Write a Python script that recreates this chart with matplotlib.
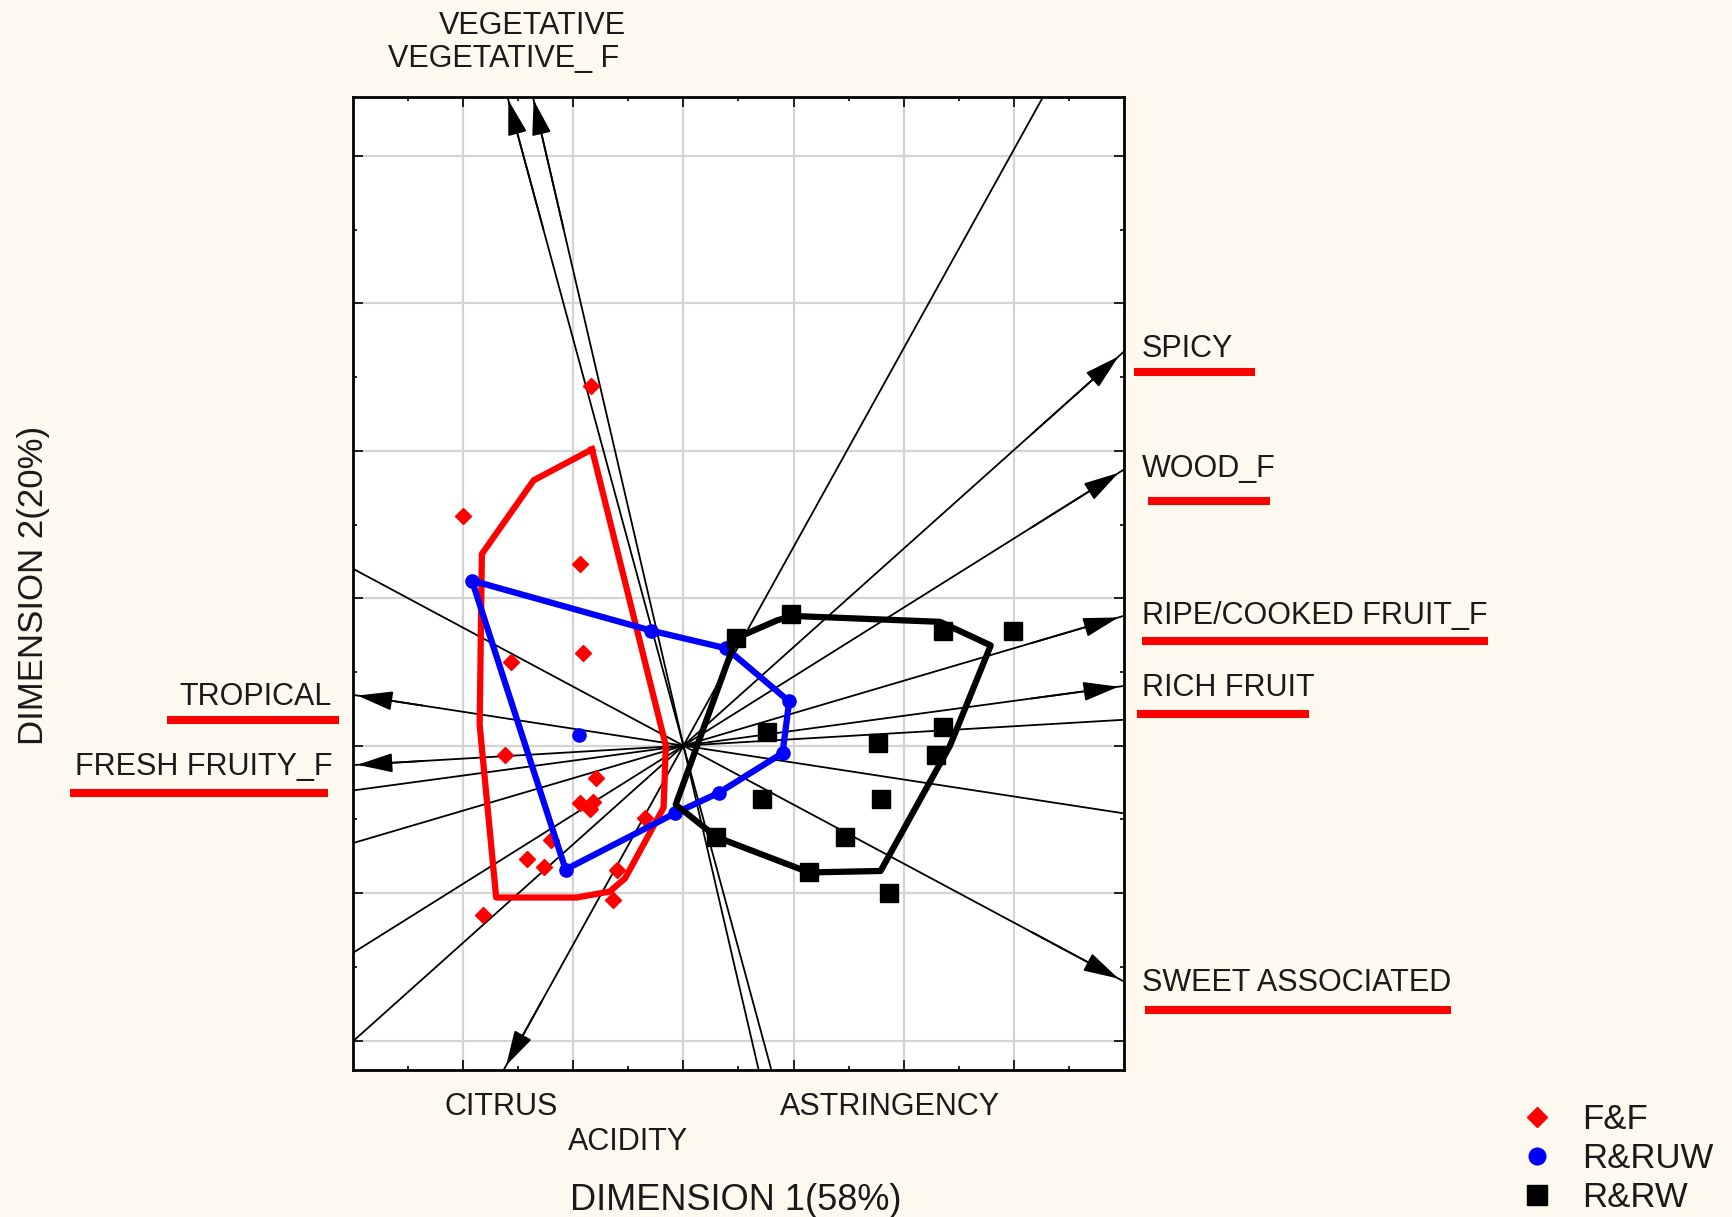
import numpy as np
import matplotlib.pyplot as plt
from matplotlib.lines import Line2D

plt.rcParams['font.family'] = ['Liberation Sans', 'DejaVu Sans']

W, H = 1733, 1217

############
# sample scores
############
# F&F (red diamonds)
ff_x = [-0.84, -2.00, -0.94, -0.91, -1.57, -1.62, -0.79, -0.94, -0.82,
        -0.85, -0.35, -1.20, -1.42, -1.27, -0.60, -0.64, -1.82]
ff_y = [2.44, 1.56, 1.23, 0.63, 0.57, -0.06, -0.22, -0.39, -0.38,
        -0.43, -0.49, -0.64, -0.77, -0.82, -0.84, -1.05, -1.15]

# R&RUW (blue circles)
ruw_x = [-1.92, -0.29, 0.39, 0.96, -0.95, 0.90, 0.32, -0.08, -1.07]
ruw_y = [1.12, 0.78, 0.66, 0.30, 0.07, -0.05, -0.32, -0.46, -0.84]

# R&RW (black squares)
rw_x = [0.48, 0.98, 2.36, 2.99, 0.76, 2.36, 1.77, 2.29, 0.71,
        1.79, 0.30, 1.47, 1.14, 1.87]
rw_y = [0.73, 0.89, 0.78, 0.78, 0.09, 0.13, 0.02, -0.06, -0.36,
        -0.36, -0.62, -0.62, -0.86, -1.00]

# group outlines
ff_hull_x = [-0.83, -1.36, -1.83, -1.85, -1.70, -0.97, -0.67, -0.53, -0.18, -0.16, -0.83]
ff_hull_y = [2.01, 1.80, 1.30, 0.14, -1.03, -1.03, -0.99, -0.90, -0.42, 0.00, 2.01]
ruw_hull = [0, 1, 2, 3, 5, 6, 7, 8, 0]
rw_hull_x = [0.48, 0.85, 0.99, 2.33, 2.79, 2.42, 1.79, 1.14, 0.30, -0.07, 0.48]
rw_hull_y = [0.73, 0.85, 0.88, 0.84, 0.68, 0.00, -0.85, -0.86, -0.62, -0.40, 0.73]

############
# attribute vectors (arrow tips)
############
var_names = ['VEGETATIVE', 'VEGETATIVE_ F', 'SPICY', 'WOOD_F',
             'RIPE/COOKED FRUIT_F', 'RICH FRUIT', 'SWEET ASSOCIATED',
             'TROPICAL', 'FRESH FRUITY_F', 'CITRUS']
var_x = [-1.59, -1.36, 3.95, 3.95, 3.95, 3.95, 3.95, -2.96, -2.96, -1.61]
var_y = [4.38, 4.38, 2.64, 1.85, 0.87, 0.40, -1.58, 0.34, -0.13, -2.17]

# label layout in figure pixels: x, baseline, alignment
label_pos = {
    'VEGETATIVE': (532, 34, 'center'),
    'VEGETATIVE_ F': (504, 67, 'center'),
    'SPICY': (1142, 357, 'left'),
    'WOOD_F': (1142, 477, 'left'),
    'RIPE/COOKED FRUIT_F': (1142, 624, 'left'),
    'RICH FRUIT': (1142, 696, 'left'),
    'SWEET ASSOCIATED': (1142, 991, 'left'),
    'TROPICAL': (332, 705, 'right'),
    'FRESH FRUITY_F': (333, 775, 'right'),
    'CITRUS': (501, 1115, 'center'),
    'ACIDITY': (628, 1150, 'center'),
    'ASTRINGENCY': (890, 1115, 'center'),
}

# red highlight bars (figure pixels): x0, x1, y
underlines = [(1134, 1255, 372), (1148, 1270, 501), (1142, 1488, 641),
              (1137, 1309, 714), (1145, 1451, 1010), (167, 339, 720),
              (70, 328, 793)]


def fx(px):
    return px / W


def fy(py):
    return 1 - py / H


txt_col = '#1a1a1a'

fig = plt.figure(figsize=(W / 100, H / 100), dpi=100)
fig.patch.set_facecolor('#fdf9ef')

ax = fig.add_axes([fx(353), fy(1070), fx(1124) - fx(353), fy(97) - fy(1070)])
ax.set_facecolor('white')
ax.set_xlim(-3, 4)
ax.set_ylim(-2.2, 4.4)
ax.set_xticks(np.arange(-2, 4))
ax.set_yticks(np.arange(-2, 5))
ax.set_xticks(np.arange(-2.5, 4, 1.0), minor=True)
ax.set_yticks(np.arange(-1.5, 4.4, 1.0), minor=True)
ax.tick_params(which='both', direction='in', top=True, right=True,
               labelbottom=False, labelleft=False, width=1.2)
ax.tick_params(which='major', length=7)
ax.tick_params(which='minor', length=3)
ax.grid(True, which='major', color='#d4d4d4', lw=1.6)
ax.set_axisbelow(True)
for s in ax.spines.values():
    s.set_linewidth(2)

# biplot vectors
for vx, vy in zip(var_x, var_y):
    ax.axline((0, 0), (vx, vy), color='black', lw=1.3, zorder=2)
    ax.annotate('', xy=(vx, vy), xytext=(0.8 * vx, 0.8 * vy),
                arrowprops=dict(arrowstyle='-|>,head_length=1.1,head_width=0.3',
                                mutation_scale=20, color='black', lw=1.3,
                                shrinkA=0, shrinkB=0), zorder=2)

# groups
ax.plot(ff_hull_x, ff_hull_y, color='#ff0000', lw=4.5, zorder=3)
ax.plot(ff_x, ff_y, 'D', color='#ff0000', ms=8.5, ls='none', zorder=3.5)
ax.plot([ruw_x[i] for i in ruw_hull], [ruw_y[i] for i in ruw_hull],
        color='#0000ff', lw=4.5, zorder=4)
ax.plot(ruw_x, ruw_y, 'o', color='#0000ff', ms=9.5, ls='none', zorder=4.5)
ax.plot(rw_hull_x, rw_hull_y, color='black', lw=4.5, zorder=5)
ax.plot(rw_x, rw_y, 's', color='black', ms=12.5, ls='none', zorder=5.5)

# attribute labels
for name, (px, py, ha) in label_pos.items():
    fig.text(fx(px), fy(py), name, ha=ha, va='baseline', fontsize=22, color=txt_col)

for x0, x1, y in underlines:
    fig.add_artist(Line2D([fx(x0), fx(x1)], [fy(y), fy(y)], color='#ff0000',
                          lw=5.8, solid_capstyle='butt'))

fig.text(fx(736), fy(1210), 'DIMENSION 1(58%)', ha='center', va='baseline',
         fontsize=26, color=txt_col)
fig.text(fx(34), fy(585), 'DIMENSION 2(20%)', rotation=90, ha='center',
         va='center', fontsize=25, color=txt_col)

handles = [
    Line2D([], [], marker='D', color='#ff0000', ls='none', ms=10, label='F&F'),
    Line2D([], [], marker='o', color='#0000ff', ls='none', ms=12, label='R&RUW'),
    Line2D([], [], marker='s', color='black', ls='none', ms=14, label='R&RW'),
]
fig.legend(handles=handles, loc='upper left', bbox_to_anchor=(fx(1520), fy(1103)),
           frameon=False, borderpad=0, borderaxespad=0, fontsize=25,
           handlelength=1.0, handletextpad=0.8, labelspacing=0.17,
           labelcolor=txt_col)

fig.savefig('out.png', dpi=100)
